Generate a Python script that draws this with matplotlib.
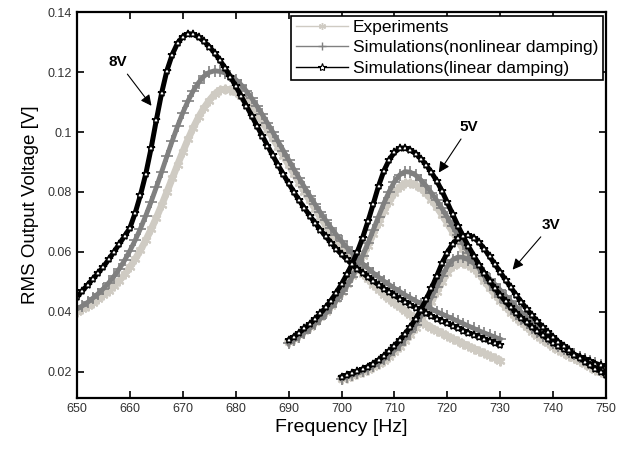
import numpy as np
import matplotlib
matplotlib.use('Agg')
import matplotlib.pyplot as plt
from matplotlib.lines import Line2D

plt.rcParams['font.family'] = ['Liberation Sans', 'DejaVu Sans']

# frequency grids [Hz]
f8 = np.arange(650, 731)
f5 = np.arange(690, 751)
f3 = np.arange(700, 751)

# 8V
exp_8v = [0.0400, 0.0410, 0.0420, 0.0431, 0.0443, 0.0456, 0.0470, 0.0486, 0.0504, 0.0525,
          0.0549, 0.0576, 0.0606, 0.0639, 0.0675, 0.0714, 0.0756, 0.0800, 0.0845, 0.0890,
          0.0934, 0.0976, 0.1015, 0.1050, 0.1080, 0.1105, 0.1126, 0.1140, 0.1143, 0.1140,
          0.1132, 0.1119, 0.1103, 0.1083, 0.1060, 0.1035, 0.1008, 0.0980, 0.0951, 0.0921,
          0.0891, 0.0861, 0.0831, 0.0801, 0.0772, 0.0744, 0.0716, 0.0689, 0.0663, 0.0638,
          0.0614, 0.0591, 0.0569, 0.0548, 0.0528, 0.0509, 0.0491, 0.0474, 0.0458, 0.0443,
          0.0429, 0.0416, 0.0403, 0.0391, 0.0380, 0.0369, 0.0358, 0.0348, 0.0338, 0.0329,
          0.0320, 0.0311, 0.0302, 0.0294, 0.0286, 0.0278, 0.0270, 0.0262, 0.0254, 0.0246,
          0.0238]
nonlin_8v = [0.0410, 0.0420, 0.0432, 0.0446, 0.0461, 0.0478, 0.0497, 0.0519, 0.0544, 0.0572,
             0.0604, 0.0639, 0.0678, 0.0721, 0.0767, 0.0816, 0.0867, 0.0919, 0.0970, 0.1019,
             0.1064, 0.1104, 0.1138, 0.1165, 0.1186, 0.1199, 0.1204, 0.1202, 0.1197, 0.1188,
             0.1175, 0.1158, 0.1137, 0.1113, 0.1087, 0.1059, 0.1030, 0.1000, 0.0969, 0.0938,
             0.0907, 0.0876, 0.0846, 0.0816, 0.0787, 0.0759, 0.0732, 0.0706, 0.0681, 0.0658,
             0.0636, 0.0615, 0.0596, 0.0578, 0.0561, 0.0545, 0.0530, 0.0516, 0.0503, 0.0491,
             0.0479, 0.0468, 0.0457, 0.0447, 0.0437, 0.0428, 0.0419, 0.0410, 0.0401, 0.0393,
             0.0385, 0.0377, 0.0369, 0.0361, 0.0353, 0.0345, 0.0337, 0.0330, 0.0323, 0.0316,
             0.0309]
lin_8v = [0.0450, 0.0470, 0.0490, 0.0510, 0.0530, 0.0551, 0.0575, 0.0600, 0.0627, 0.0653,
          0.0680, 0.0730, 0.0790, 0.0860, 0.0945, 0.1040, 0.1130, 0.1205, 0.1258, 0.1296,
          0.1318, 0.1328, 0.1326, 0.1316, 0.1302, 0.1285, 0.1264, 0.1240, 0.1213, 0.1184,
          0.1153, 0.1121, 0.1088, 0.1055, 0.1021, 0.0988, 0.0955, 0.0922, 0.0890, 0.0859,
          0.0829, 0.0800, 0.0772, 0.0746, 0.0721, 0.0697, 0.0674, 0.0652, 0.0631, 0.0611,
          0.0592, 0.0575, 0.0559, 0.0544, 0.0530, 0.0516, 0.0503, 0.0490, 0.0478, 0.0466,
          0.0455, 0.0444, 0.0434, 0.0424, 0.0414, 0.0405, 0.0396, 0.0387, 0.0378, 0.0370,
          0.0362, 0.0354, 0.0346, 0.0338, 0.0331, 0.0324, 0.0317, 0.0310, 0.0303, 0.0296,
          0.0289]

# 5V
exp_5v = [0.0300, 0.0311, 0.0323, 0.0336, 0.0350, 0.0365, 0.0382, 0.0400, 0.0420, 0.0442,
          0.0466, 0.0492, 0.0520, 0.0551, 0.0585, 0.0621, 0.0660, 0.0698, 0.0735, 0.0768,
          0.0796, 0.0817, 0.0829, 0.0830, 0.0824, 0.0812, 0.0795, 0.0774, 0.0750, 0.0724,
          0.0696, 0.0667, 0.0638, 0.0609, 0.0581, 0.0554, 0.0528, 0.0503, 0.0480, 0.0458,
          0.0437, 0.0417, 0.0398, 0.0381, 0.0365, 0.0349, 0.0334, 0.0320, 0.0307, 0.0295,
          0.0284, 0.0273, 0.0263, 0.0254, 0.0245, 0.0237, 0.0229, 0.0222, 0.0215, 0.0209,
          0.0203]
nonlin_5v = [0.0295, 0.0306, 0.0318, 0.0331, 0.0345, 0.0360, 0.0377, 0.0395, 0.0415, 0.0437,
             0.0461, 0.0487, 0.0516, 0.0550, 0.0588, 0.0629, 0.0673, 0.0718, 0.0762, 0.0801,
             0.0834, 0.0857, 0.0868, 0.0866, 0.0856, 0.0840, 0.0820, 0.0797, 0.0772, 0.0745,
             0.0716, 0.0686, 0.0656, 0.0627, 0.0598, 0.0571, 0.0545, 0.0519, 0.0495, 0.0472,
             0.0451, 0.0431, 0.0412, 0.0394, 0.0377, 0.0362, 0.0347, 0.0334, 0.0321, 0.0309,
             0.0298, 0.0287, 0.0277, 0.0268, 0.0259, 0.0251, 0.0243, 0.0236, 0.0229, 0.0223,
             0.0217]
lin_5v = [0.0307, 0.0318, 0.0331, 0.0345, 0.0360, 0.0377, 0.0395, 0.0415, 0.0438, 0.0464,
          0.0493, 0.0525, 0.0560, 0.0600, 0.0648, 0.0702, 0.0760, 0.0820, 0.0870, 0.0907,
          0.0932, 0.0946, 0.0947, 0.0940, 0.0928, 0.0911, 0.0890, 0.0865, 0.0837, 0.0803,
          0.0765, 0.0726, 0.0688, 0.0652, 0.0619, 0.0588, 0.0558, 0.0530, 0.0503, 0.0479,
          0.0456, 0.0435, 0.0416, 0.0398, 0.0381, 0.0365, 0.0350, 0.0336, 0.0323, 0.0310,
          0.0298, 0.0287, 0.0277, 0.0267, 0.0258, 0.0250, 0.0242, 0.0235, 0.0228, 0.0222,
          0.0216]

# 3V
exp_3v = [0.0176, 0.0181, 0.0186, 0.0192, 0.0199, 0.0207, 0.0216, 0.0226, 0.0238, 0.0251,
          0.0266, 0.0283, 0.0302, 0.0323, 0.0347, 0.0373, 0.0402, 0.0434, 0.0467, 0.0500,
          0.0530, 0.0552, 0.0562, 0.0562, 0.0555, 0.0544, 0.0530, 0.0514, 0.0496, 0.0477,
          0.0458, 0.0439, 0.0420, 0.0402, 0.0384, 0.0367, 0.0351, 0.0335, 0.0320, 0.0306,
          0.0293, 0.0280, 0.0268, 0.0257, 0.0246, 0.0236, 0.0226, 0.0217, 0.0208, 0.0200,
          0.0192]
nonlin_3v = [0.0178, 0.0183, 0.0189, 0.0195, 0.0202, 0.0210, 0.0219, 0.0230, 0.0242, 0.0256,
             0.0272, 0.0290, 0.0310, 0.0332, 0.0357, 0.0385, 0.0416, 0.0449, 0.0484, 0.0520,
             0.0552, 0.0574, 0.0583, 0.0582, 0.0574, 0.0562, 0.0547, 0.0530, 0.0511, 0.0492,
             0.0473, 0.0454, 0.0435, 0.0417, 0.0399, 0.0382, 0.0365, 0.0349, 0.0334, 0.0320,
             0.0306, 0.0293, 0.0281, 0.0270, 0.0259, 0.0249, 0.0239, 0.0230, 0.0221, 0.0213,
             0.0205]
lin_3v = [0.0184, 0.0189, 0.0195, 0.0202, 0.0210, 0.0218, 0.0228, 0.0240, 0.0254, 0.0270,
          0.0287, 0.0306, 0.0327, 0.0350, 0.0377, 0.0408, 0.0442, 0.0479, 0.0520, 0.0562,
          0.0598, 0.0627, 0.0645, 0.0654, 0.0656, 0.0648, 0.0632, 0.0610, 0.0585, 0.0559,
          0.0533, 0.0507, 0.0482, 0.0457, 0.0433, 0.0410, 0.0389, 0.0369, 0.0350, 0.0332,
          0.0317, 0.0301, 0.0287, 0.0272, 0.0258, 0.0246, 0.0234, 0.0222, 0.0211, 0.0201,
          0.0191]

labels = ['Experiments', 'Simulations(nonlinear damping)', 'Simulations(linear damping)']

c_exp = '#cfcbc3'
c_non = '#808080'
c_lin = '#000000'

fig = plt.figure(figsize=(6.28, 4.53), dpi=100)
ax = fig.add_axes([0.1226, 0.1214, 0.8424, 0.852])

exp_style = dict(color=c_exp, lw=5, marker=(6, 2, 0), ms=7, mew=1.5)
non_style = dict(color=c_non, lw=3.5, marker='+', ms=8, mew=1.2)
lin_style = dict(color=c_lin, lw=3.6, marker='*', ms=6, mfc='white', mec='black', mew=1.1)

groups = [(f8, exp_8v, nonlin_8v, lin_8v), (f5, exp_5v, nonlin_5v, lin_5v),
          (f3, exp_3v, nonlin_3v, lin_3v)]

for f, e, n, l in groups:
    ax.plot(f, e, **exp_style)
for f, e, n, l in groups:
    ax.plot(f, n, **non_style)
for f, e, n, l in groups:
    ax.plot(f, l, **lin_style)

arrow = dict(arrowstyle='-|>', color='black', lw=0.8, mutation_scale=16)
txt = dict(fontsize=11, fontweight='bold', ha='center', va='center')
ax.annotate('8V', xy=(664.4, 0.108), xytext=(657.8, 0.1233), arrowprops=arrow, **txt)
ax.annotate('5V', xy=(718.1, 0.0857), xytext=(724.1, 0.1017), arrowprops=arrow, **txt)
ax.annotate('3V', xy=(732.0, 0.0534), xytext=(739.6, 0.0690), arrowprops=arrow, **txt)

ax.set_xlim(650, 750)
ax.set_ylim(0.0113, 0.14)
ax.set_xticks(np.arange(650, 751, 10))
ax.set_yticks([0.02, 0.04, 0.06, 0.08, 0.1, 0.12, 0.14])
ax.set_yticklabels(['0.02', '0.04', '0.06', '0.08', '0.1', '0.12', '0.14'])
ax.tick_params(direction='in', top=True, right=True, length=5, width=1.2,
               labelsize=9, colors='black')
for lbl in ax.get_xticklabels() + ax.get_yticklabels():
    lbl.set_color('#333333')
for s in ax.spines.values():
    s.set_linewidth(1.6)

ax.set_xlabel('Frequency [Hz]', fontsize=14, labelpad=3)
ax.set_ylabel('RMS Output Voltage [V]', fontsize=13.5, labelpad=6)

handles = [Line2D([], [], color=c_exp, lw=1, marker=(6, 2, 0), ms=5),
           Line2D([], [], color=c_non, lw=1, marker='+', ms=6),
           Line2D([], [], color=c_lin, lw=1, marker='*', ms=6, mfc='white', mec='black',
                  mew=0.8)]
leg = ax.legend(handles, labels, loc='upper right', fontsize=12.5, handlelength=3.0,
                borderaxespad=0.2, labelspacing=0.3, handletextpad=0.3, borderpad=0.25,
                fancybox=False, framealpha=1, numpoints=1)
leg.get_frame().set_edgecolor('black')
leg.get_frame().set_linewidth(1.2)

plt.savefig('out.png', dpi=100)
plt.close()
